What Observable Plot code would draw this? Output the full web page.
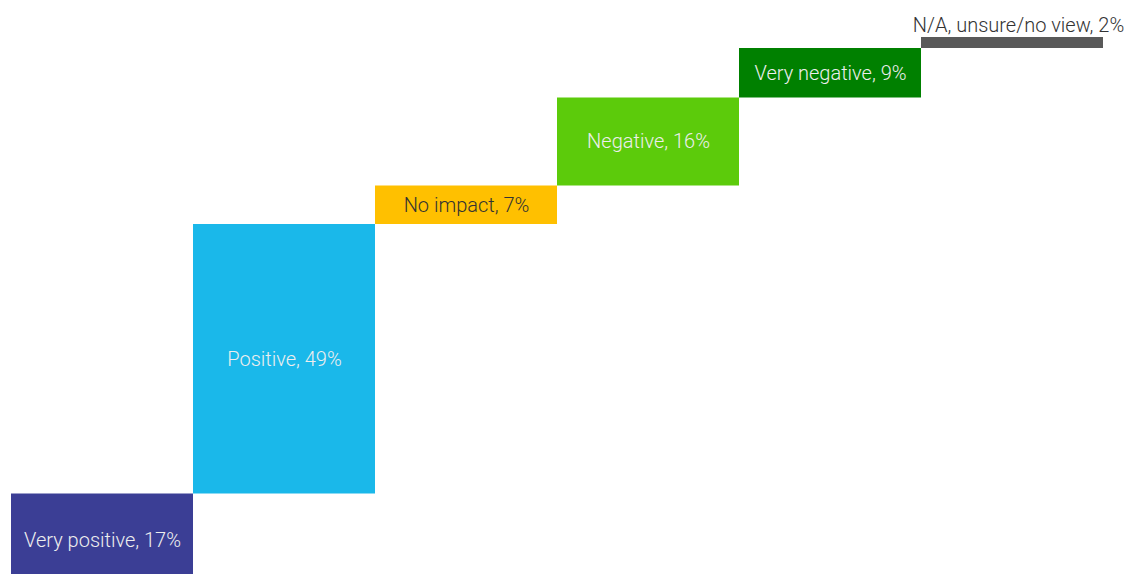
<!DOCTYPE html>
<html>
<head>
<meta charset="utf-8">
<script src="https://cdn.jsdelivr.net/npm/d3@7"></script>
<script src="https://cdn.jsdelivr.net/npm/@observablehq/plot@0.6"></script>
<style>
  html, body { margin: 0; padding: 0; overflow: hidden; background: #fff; }
  #chart svg { display: block; }
</style>
</head>
<body>
<div id="chart"></div>
<script>
const categories = ["Very positive", "Positive", "No impact", "Negative", "Very negative", "N/A, unsure/no view"];
const values = [17, 49, 7, 16, 9, 2];
const colors = ["#3B3E95", "#1AB8EA", "#FFC000", "#5CCB0B", "#008000", "#595959"];
const textColors = ["#eeeeee", "#eeeeee", "#333333", "#eeeeee", "#eeeeee", "#333333"];

let acc = 0;
const rows = categories.map((c, i) => {
  const y1 = acc;
  acc += values[i];
  return { cat: c, value: values[i], y1, y2: acc, label: `${c}, ${values[i]}%`, color: colors[i], tcolor: textColors[i] };
});
const inside = rows.slice(0, 5);
const outside = rows.slice(5);

const chart = Plot.plot({
  width: 1130,
  height: 600,
  marginLeft: 10,
  marginRight: 26,
  marginTop: 37,
  marginBottom: 13,
  style: { fontFamily: "Roboto, sans-serif", background: "#fff" },
  x: { domain: categories, padding: 0, axis: null },
  y: { domain: [0, 100], axis: null },
  marks: [
    Plot.barY(rows, { x: "cat", y1: "y1", y2: "y2", fill: d => d.color, inset: 0 }),
    Plot.text(inside, {
      x: "cat", y: d => (d.y1 + d.y2) / 2, text: "label",
      fill: d => d.tcolor, fontSize: 20, fontWeight: 300
    }),
    Plot.text(outside, {
      x: "cat", y: "y2", text: "label", dy: -12, dx: 6,
      fill: d => d.tcolor, fontSize: 20, fontWeight: 300
    })
  ]
});
document.getElementById("chart").appendChild(chart);
</script>
</body>
</html>
